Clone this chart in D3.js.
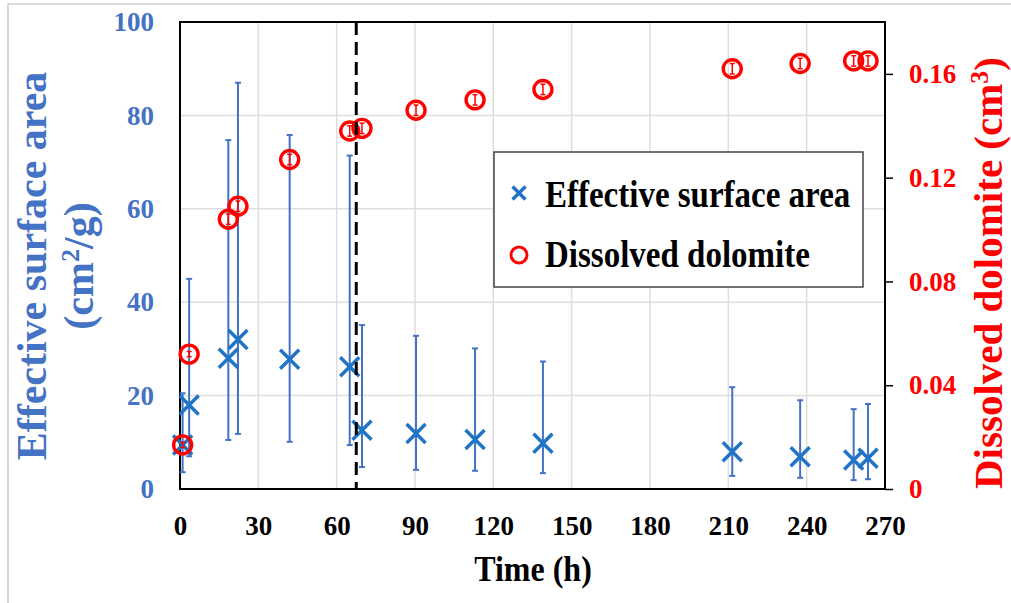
<!DOCTYPE html>
<html>
<head>
<meta charset="utf-8">
<script src="https://cdn.jsdelivr.net/npm/d3@7"></script>
<style>
  body { margin: 0; background: #fff; }
  text { font-family: "Liberation Serif", "Times New Roman", serif; font-weight: bold; }
</style>
</head>
<body>
<div class="graphContainer"></div>
<script>
// Data
const times = [1, 3.5, 18.5, 22.2, 42, 65, 69.7, 90.4, 113, 139, 211.5, 237.5, 258, 263.5];
const surfArea = [9.4, 18, 28, 32, 27.8, 26.2, 12.6, 11.9, 10.6, 9.8, 8.0, 6.9, 6.2, 6.6];
const surfLow = [3.6, 7, 10.5, 11.8, 10.1, 9.4, 4.7, 4.1, 3.9, 3.4, 2.8, 2.4, 1.9, 2.1];
const surfHigh = [20.5, 45, 74.7, 87, 75.8, 71.4, 35.1, 32.8, 30.1, 27.3, 21.8, 19, 17.1, 18.2];
const dolomite = [0.017, 0.052, 0.104, 0.109, 0.127, 0.138, 0.139, 0.146, 0.150, 0.154, 0.162, 0.164, 0.165, 0.165];
const dolErr = [0.001, 0.001, 0.002, 0.002, 0.002, 0.002, 0.002, 0.002, 0.002, 0.002, 0.002, 0.002, 0.002, 0.002];
const xTicks = [0, 30, 60, 90, 120, 150, 180, 210, 240, 270];
const yTicks = [0, 20, 40, 60, 80, 100];
const y2Ticks = [0, 0.04, 0.08, 0.12, 0.16];
const switchTime = 67.5;

// Sizes and colours
const w = 1011, h = 603;
const pLeft = 180, pRight = 885, pTop = 22, pBottom = 489;
const blue = "#1f74c6", barBlue = "#4472c4", labelBlue = "#4472c4", red = "#ff0000";

const svg = d3.select(".graphContainer").append("svg")
  .attr("width", w)
  .attr("height", h)
  .style("display", "block");

// faint outer border of the figure
svg.append("rect")
  .attr("x", 8).attr("y", 4).attr("width", w).attr("height", h)
  .attr("fill", "none").attr("stroke", "#d0d0d0").attr("stroke-width", 1.5);

const xScale = d3.scaleLinear().domain([0, 270]).range([pLeft, pRight]);
const yScale = d3.scaleLinear().domain([0, 100]).range([pBottom, pTop]);
const y2Scale = d3.scaleLinear().domain([0, 0.18]).range([pBottom, pTop]);

// gridlines
svg.append("g").selectAll("line").data(xTicks.slice(1, -1)).join("line")
  .attr("x1", d => xScale(d)).attr("x2", d => xScale(d))
  .attr("y1", pTop).attr("y2", pBottom)
  .attr("stroke", "#dedede").attr("stroke-width", 1.5);
svg.append("g").selectAll("line").data(yTicks.slice(1, -1)).join("line")
  .attr("x1", pLeft).attr("x2", pRight)
  .attr("y1", d => yScale(d)).attr("y2", d => yScale(d))
  .attr("stroke", "#dedede").attr("stroke-width", 1.5);

// axes
const xAxis = svg.append("g")
  .attr("transform", "translate(0," + pBottom + ")")
  .call(d3.axisBottom(xScale).tickValues(xTicks).tickSize(0).tickPadding(27));
xAxis.select(".domain").remove();
xAxis.selectAll("text").attr("font-size", 27).attr("fill", "#000")
  .style("font-family", "Liberation Serif").style("font-weight", "bold");

const yAxis = svg.append("g")
  .attr("transform", "translate(" + pLeft + ",0)")
  .call(d3.axisLeft(yScale).tickValues(yTicks).tickSize(0).tickPadding(26));
yAxis.select(".domain").remove();
yAxis.selectAll("text").attr("font-size", 27).attr("fill", labelBlue)
  .style("font-family", "Liberation Serif").style("font-weight", "bold");

const y2Axis = svg.append("g")
  .attr("transform", "translate(" + pRight + ",0)")
  .call(d3.axisRight(y2Scale).tickValues(y2Ticks).tickSize(8).tickPadding(16)
    .tickFormat(d => d === 0 ? "0" : d3.format(".2f")(d)));
y2Axis.select(".domain").remove();
y2Axis.selectAll("line").attr("stroke", "#000").attr("stroke-width", 1.5);
y2Axis.selectAll("text").attr("font-size", 27).attr("fill", red)
  .style("font-family", "Liberation Serif").style("font-weight", "bold");

// plot frame
svg.append("rect")
  .attr("x", pLeft).attr("y", pTop)
  .attr("width", pRight - pLeft).attr("height", pBottom - pTop)
  .attr("fill", "none").attr("stroke", "#000").attr("stroke-width", 2);

// surface area error bars
const idx = d3.range(times.length);
const eb = svg.append("g").attr("stroke", barBlue).attr("stroke-width", 2);
eb.selectAll(".v").data(idx).join("line").attr("class", "v")
  .attr("x1", i => xScale(times[i])).attr("x2", i => xScale(times[i]))
  .attr("y1", i => yScale(surfHigh[i])).attr("y2", i => yScale(surfLow[i]));
eb.selectAll(".hi").data(idx).join("line").attr("class", "hi")
  .attr("x1", i => xScale(times[i]) - 3).attr("x2", i => xScale(times[i]) + 3)
  .attr("y1", i => yScale(surfHigh[i])).attr("y2", i => yScale(surfHigh[i]));
eb.selectAll(".lo").data(idx).join("line").attr("class", "lo")
  .attr("x1", i => xScale(times[i]) - 3).attr("x2", i => xScale(times[i]) + 3)
  .attr("y1", i => yScale(surfLow[i])).attr("y2", i => yScale(surfLow[i]));

// X markers
const cross = s => "M" + (-s) + "," + (-s) + "L" + s + "," + s + "M" + (-s) + "," + s + "L" + s + "," + (-s);
svg.append("g").selectAll("path").data(idx).join("path")
  .attr("transform", i => "translate(" + xScale(times[i]) + "," + yScale(surfArea[i]) + ")")
  .attr("d", cross(9.5))
  .attr("stroke", blue).attr("stroke-width", 3.5).attr("fill", "none");

// dolomite error bars and circles
const rb = svg.append("g").attr("stroke", red).attr("stroke-width", 1.5);
rb.selectAll(".v").data(idx).join("line").attr("class", "v")
  .attr("x1", i => xScale(times[i])).attr("x2", i => xScale(times[i]))
  .attr("y1", i => y2Scale(dolomite[i] + dolErr[i])).attr("y2", i => y2Scale(dolomite[i] - dolErr[i]));
rb.selectAll(".hi").data(idx).join("line").attr("class", "hi")
  .attr("x1", i => xScale(times[i]) - 2.5).attr("x2", i => xScale(times[i]) + 2.5)
  .attr("y1", i => y2Scale(dolomite[i] + dolErr[i])).attr("y2", i => y2Scale(dolomite[i] + dolErr[i]));
rb.selectAll(".lo").data(idx).join("line").attr("class", "lo")
  .attr("x1", i => xScale(times[i]) - 2.5).attr("x2", i => xScale(times[i]) + 2.5)
  .attr("y1", i => y2Scale(dolomite[i] - dolErr[i])).attr("y2", i => y2Scale(dolomite[i] - dolErr[i]));

svg.append("g").selectAll("circle").data(idx).join("circle")
  .attr("cx", i => xScale(times[i])).attr("cy", i => y2Scale(dolomite[i]))
  .attr("r", 9)
  .attr("fill", "none").attr("stroke", red).attr("stroke-width", 3.4);

// dashed switch line
svg.append("line")
  .attr("x1", xScale(switchTime)).attr("x2", xScale(switchTime))
  .attr("y1", pTop).attr("y2", pBottom)
  .attr("stroke", "#000").attr("stroke-width", 3).attr("stroke-dasharray", "13,7");

// legend
const lg = svg.append("g");
lg.append("rect")
  .attr("x", 494).attr("y", 152).attr("width", 369).attr("height", 135)
  .attr("fill", "#fff").attr("stroke", "#444").attr("stroke-width", 1.5);
lg.append("path").attr("transform", "translate(519,193)").attr("d", cross(6.5))
  .attr("stroke", blue).attr("stroke-width", 3.5).attr("fill", "none");
lg.append("circle").attr("cx", 519).attr("cy", 255).attr("r", 8)
  .attr("fill", "none").attr("stroke", red).attr("stroke-width", 3);
lg.append("text").attr("transform", "translate(545,207) scale(1,1.18)").attr("font-size", 33)
  .text("Effective surface area");
lg.append("text").attr("transform", "translate(545,267) scale(1,1.18)").attr("font-size", 33)
  .text("Dissolved dolomite");

// axis titles
svg.append("text")
  .attr("transform", "translate(533,581) scale(1,1.15)")
  .attr("text-anchor", "middle").attr("font-size", 32).attr("fill", "#000")
  .text("Time (h)");

const lt = svg.append("text")
  .attr("transform", "translate(46,266) rotate(-90)")
  .attr("text-anchor", "middle").attr("font-size", 42).attr("fill", labelBlue);
lt.append("tspan").attr("x", 0).attr("y", 0).text("Effective surface area");
const lt2 = lt.append("tspan").attr("x", 0).attr("y", 47);
lt2.append("tspan").text("(cm");
lt2.append("tspan").attr("font-size", 26).attr("dy", -14).text("2");
lt2.append("tspan").attr("dy", 14).text("/g)");

const rt = svg.append("text")
  .attr("transform", "translate(1002,273) rotate(-90)")
  .attr("text-anchor", "middle").attr("font-size", 41).attr("fill", red);
rt.append("tspan").text("Dissolved dolomite (cm");
rt.append("tspan").attr("font-size", 26).attr("dy", -14).text("3");
rt.append("tspan").attr("dy", 14).text(")");
</script>
</body>
</html>
